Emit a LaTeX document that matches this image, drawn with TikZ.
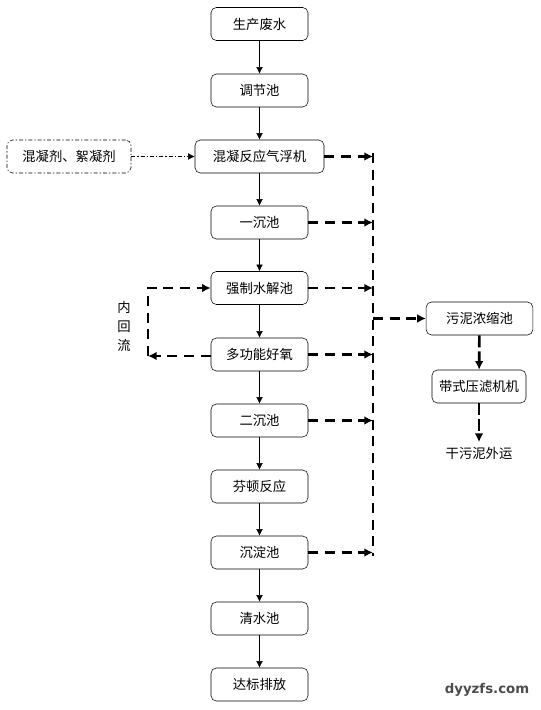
\documentclass[tikz,border=0pt]{standalone}
\usepackage{fontspec}
\setmainfont{Noto Sans CJK SC}
\newfontfamily\markfont{DejaVu Sans}
\usetikzlibrary{arrows.meta}
\usetikzlibrary{positioning}

\begin{document}
\begin{tikzpicture}[x=0.75pt,y=-0.75pt,
    box/.style={draw,rounded corners=4pt,minimum width=72.75pt,minimum height=24.75pt,inner sep=1pt,font=\fontsize{10}{12}\selectfont},
    flow/.style={-{Latex[length=5pt,width=5pt]}},
    sludge/.style={-{Latex[length=6.5pt,width=6.5pt]},line width=2pt,dash pattern=on 7.5pt off 5pt}]
                    \useasboundingbox (0,0) rectangle (540,710);
                    % main line
                    \node[box,name=raw] at (259.5,24) {生产废水};
                    \node[box,name=adj] at (259.5,90.5) {调节池};
                    \node[box,minimum width=96.75pt,name=flot] at (259.5,156.5) {混凝反应气浮机};
                    \node[box,name=sed1] at (259.5,222.5) {一沉池};
                    \node[box,name=hyd] at (259.5,288) {强制水解池};
                    \node[box,name=aer] at (259.5,354.5) {多功能好氧};
                    \node[box,name=sed2] at (259.5,420.5) {二沉池};
                    \node[box,name=fen] at (259.5,486.5) {芬顿反应};
                    \node[box,name=sed3] at (259.5,552.5) {沉淀池};
                    \node[box,name=clear] at (259.5,618.5) {清水池};
                    \node[box,name=out] at (259.5,684.5) {达标排放};
                    \foreach \a/\b in {raw/adj,adj/flot,flot/sed1,sed1/hyd,hyd/aer,aer/sed2,sed2/fen,fen/sed3,sed3/clear,clear/out}
                        \draw[flow] (\a) -- (\b);
                    % dosing
                    \node[box,minimum width=93pt,dash pattern=on 3pt off 1.5pt on 1pt off 1.5pt,name=chem] at (69,156.5) {混凝剂、絮凝剂};
                    \draw[flow,dash pattern=on 3pt off 1.5pt on 1pt off 1.5pt] (chem) -- (flot);
                    % sludge line
                    \coordinate (top) at (373,153);
                    \coordinate (bot) at (373,556);
                    \coordinate (tap) at (373,318.5);
                    \draw[line width=2pt,dash pattern=on 7.5pt off 5pt] (top) -- (bot);
                    \foreach \n in {flot,sed1,hyd,aer,sed2,sed3}
                        \draw[sludge] (\n.east) -- (\n.east -| top);
                    \node[box,minimum width=80pt,name=thick] at (479.5,318.5) {污泥浓缩池};
                    \node[box,minimum width=70.5pt,name=press] at (479,386.5) {带式压滤机机};
                    \node[font=\fontsize{10}{12}\selectfont,name=cake] at (479,453) {干污泥外运};
                    \draw[sludge] (tap) -- (thick);
                    \draw[sludge,dash pattern=on 9pt off 3pt] (thick) -- (press);
                    \draw[sludge,dash pattern=on 9pt off 3pt] (press) -- (cake);
                    % internal return
                    \coordinate (ret) at (148,356);
                    \draw[sludge] (aer.west |- ret) -- (ret);
                    \draw[sludge] (ret) -- (148,288) -- (hyd.west);
                    \node[font=\fontsize{10}{12}\selectfont,align=center,inner sep=0pt,name=retlbl] at (124,326.5) {内\\[2pt]回\\[2pt]流};
                    \node[font=\markfont\bfseries\fontsize{10}{12}\selectfont,text=gray!60!black,name=mark] at (487,690) {dyyzfs.com};
                \end{tikzpicture}
\end{document}
